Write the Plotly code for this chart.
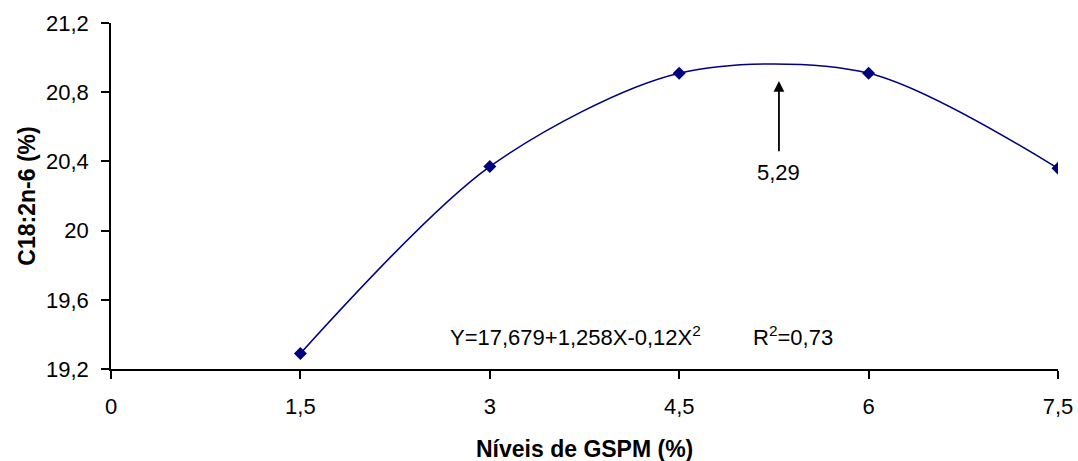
import plotly.graph_objects as go

# GSPM inclusion levels (%) and measured C18:2n-6 content (%)
niveis = [1.5, 3.0, 4.5, 6.0, 7.5]
c18_2n6 = [19.29, 20.37, 20.91, 20.91, 20.36]

x_ticks = [0, 1.5, 3, 4.5, 6, 7.5]
x_tick_text = ["0", "1,5", "3", "4,5", "6", "7,5"]
y_ticks = [19.2, 19.6, 20.0, 20.4, 20.8, 21.2]
y_tick_text = ["19,2", "19,6", "20", "20,4", "20,8", "21,2"]

# point of maximum response from the regression
x_max = 5.29
x_max_label = "5,29"

FONT = "Liberation Sans, Arial, sans-serif"
NAVY = "#000080"

fig = go.Figure()
fig.add_trace(go.Scatter(
    x=niveis, y=c18_2n6,
    mode="lines+markers",
    line=dict(color=NAVY, width=1.6, shape="spline", smoothing=0.85),
    marker=dict(symbol="diamond", size=10, color=NAVY),
    showlegend=False,
))

axis_common = dict(
    showline=True, linecolor="black", linewidth=1.5,
    ticks="outside", ticklen=8, tickwidth=1.5, tickcolor="black",
    showgrid=False, zeroline=False,
    tickfont=dict(family=FONT, size=22, color="black"),
)

fig.update_layout(
    width=1078, height=461,
    margin=dict(l=111, r=20, t=23, b=92),
    paper_bgcolor="white", plot_bgcolor="white",
    font=dict(family=FONT, color="black"),
    xaxis=dict(
        range=[0, 7.5], tickvals=x_ticks, ticktext=x_tick_text,
        ticklabelstandoff=9, automargin=False,
        **axis_common,
    ),
    yaxis=dict(
        range=[19.2, 21.2], tickvals=y_ticks, ticktext=y_tick_text,
        ticklabelstandoff=8,
        title=dict(text="<b>C18:2n-6 (%)</b>", font=dict(family=FONT, size=23), standoff=4),
        **axis_common,
    ),
)

# x-axis title, placed below the tick labels
fig.add_annotation(
    x=0.5, y=-0.23, xref="paper", yref="paper", yanchor="middle",
    text="<b>Níveis de GSPM (%)</b>", showarrow=False,
    font=dict(family=FONT, size=23, color="black"),
)

# arrow pointing at the maximum
fig.add_annotation(
    x=x_max, y=20.865, ax=x_max, ay=20.45,
    xref="x", yref="y", axref="x", ayref="y",
    text="", showarrow=True, arrowhead=2, arrowsize=1.2, arrowwidth=1.8, arrowcolor="black",
)
fig.add_annotation(
    x=x_max, y=20.335, xref="x", yref="y", text=x_max_label, showarrow=False,
    font=dict(family=FONT, size=22, color="black"),
)

# regression equation and coefficient of determination
fig.add_annotation(
    x=3.68, y=19.39, xref="x", yref="y", showarrow=False,
    text="Y=17,679+1,258X-0,12X<sup>2</sup>",
    font=dict(family=FONT, size=22, color="black"),
)
fig.add_annotation(
    x=5.4, y=19.39, xref="x", yref="y", showarrow=False,
    text="R<sup>2</sup>=0,73",
    font=dict(family=FONT, size=22, color="black"),
)

fig.write_html("out.html")
